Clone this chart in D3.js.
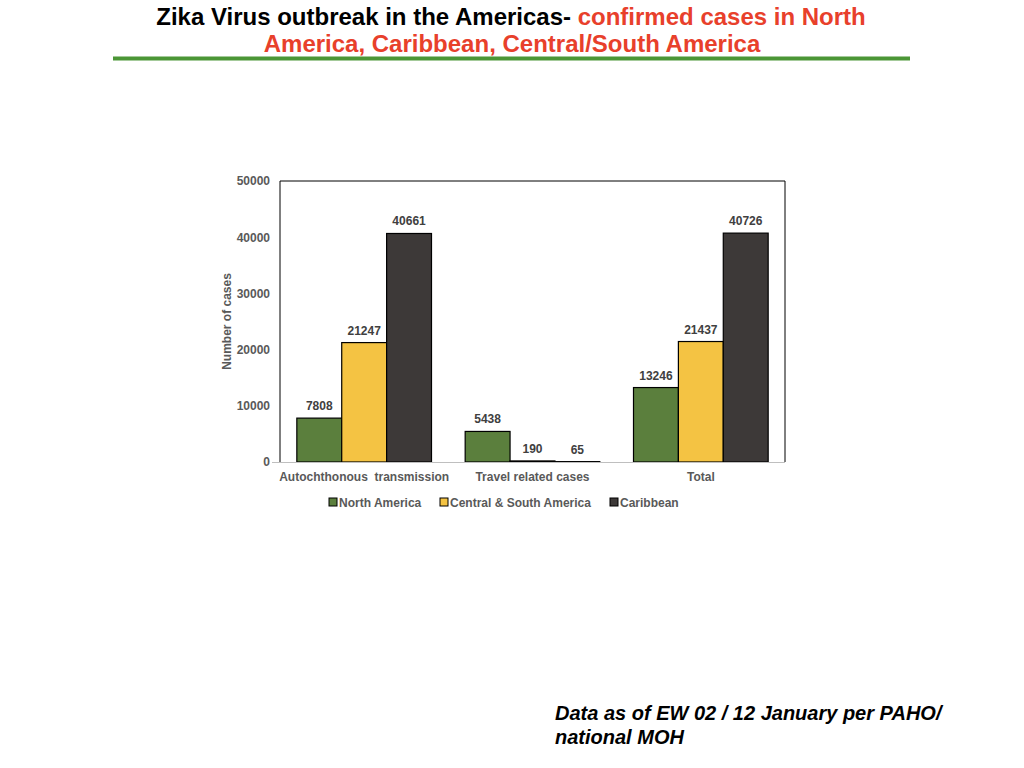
<html>
<head>
<script src="https://d3js.org/d3.v7.min.js"></script>
<style>
  body { margin: 0; background: #fff; }
  text { font-family: "Liberation Sans", Arial, sans-serif; }
</style>
</head>
<body>
<svg width="1024" height="768"></svg>
<script>
// chart data
var categories = ["Autochthonous  transmission", "Travel related cases", "Total"];
var seriesNames = ["North America", "Central & South America", "Caribbean"];
var northAmerica = [7808, 5438, 13246];
var centralSouth = [21247, 190, 21437];
var caribbean = [40661, 65, 40726];
var yTicks = [0, 10000, 20000, 30000, 40000, 50000];

var colors = ["#5b7f3d", "#f4c343", "#3d3938"];
var series = [northAmerica, centralSouth, caribbean];

var svg = d3.select("svg");

// title
var title = svg.append("text").attr("text-anchor", "middle")
  .style("font-size", "24px").style("font-weight", "bold");
title.append("tspan").attr("x", 511).attr("y", 25).attr("fill", "#000")
  .text("Zika Virus outbreak in the Americas- ");
title.append("tspan").attr("fill", "#e8402b").text("confirmed cases in North");
svg.append("text").attr("x", 512).attr("y", 52).attr("text-anchor", "middle")
  .attr("fill", "#e8402b").style("font-size", "24px").style("font-weight", "bold")
  .text("America, Caribbean, Central/South America");

svg.append("line").attr("x1", 113).attr("x2", 910).attr("y1", 58.5).attr("y2", 58.5)
  .attr("stroke", "#4b9636").attr("stroke-width", 4);

// plot area
var plotLeft = 280, plotRight = 785, plotTop = 181, plotBottom = 462;

var x0 = d3.scaleBand().domain(categories).range([plotLeft, plotRight])
  .paddingInner(0.2).paddingOuter(0.1);
var x1 = d3.scaleBand().domain(seriesNames).range([0, x0.bandwidth()]);
var y = d3.scaleLinear().domain([0, 50000]).range([plotBottom, plotTop]);

// frame (top/left/right black, bottom grey)
svg.append("path")
  .attr("d", "M" + plotLeft + "," + plotBottom + "V" + plotTop + "H" + plotRight + "V" + plotBottom)
  .attr("fill", "none").attr("stroke", "#000").attr("stroke-width", 1);

// y axis labels
var yAxis = svg.append("g").attr("transform", "translate(" + plotLeft + ",0)")
  .call(d3.axisLeft(y).tickValues(yTicks).tickSize(0).tickPadding(10).tickFormat(d3.format("d")));
yAxis.select(".domain").remove();
yAxis.selectAll("text").attr("fill", "#595959")
  .style("font-size", "12px").style("font-weight", "bold")
  .style("font-family", "'Liberation Sans', Arial, sans-serif");

svg.append("text").attr("transform", "translate(231," + ((plotTop + plotBottom) / 2) + ") rotate(-90)")
  .attr("text-anchor", "middle").attr("fill", "#595959")
  .style("font-size", "12px").style("font-weight", "bold")
  .text("Number of cases");

// bars
var groups = svg.selectAll(".grp").data(categories).enter().append("g")
  .attr("transform", function(d) { return "translate(" + x0(d) + ",0)"; });

function cells(d, i) {
  return seriesNames.map(function(s, j) { return {s: s, j: j, v: series[j][i]}; });
}

groups.selectAll("rect").data(cells).enter().append("rect")
  .attr("x", function(d) { return x1(d.s); })
  .attr("y", function(d) { return y(d.v); })
  .attr("width", x1.bandwidth())
  .attr("height", function(d) { return plotBottom - y(d.v); })
  .attr("fill", function(d) { return colors[d.j]; })
  .attr("stroke", "#000").attr("stroke-width", 1.2);

groups.selectAll(".lbl").data(cells).enter().append("text")
  .attr("x", function(d) { return x1(d.s) + x1.bandwidth() / 2; })
  .attr("y", function(d) { return y(d.v) - 8; })
  .attr("text-anchor", "middle").attr("fill", "#404040")
  .style("font-size", "12px").style("font-weight", "bold")
  .text(function(d) { return d.v; });

// bottom axis line
svg.append("line").attr("x1", 272).attr("x2", plotRight).attr("y1", plotBottom + 0.5).attr("y2", plotBottom + 0.5)
  .attr("stroke", "#bfbfbf").attr("stroke-width", 1);

// category labels
var xAxis = svg.append("g").attr("transform", "translate(0," + plotBottom + ")")
  .call(d3.axisBottom(x0).tickSize(0).tickPadding(10));
xAxis.select(".domain").remove();
xAxis.selectAll("text").attr("fill", "#595959")
  .style("font-size", "12px").style("font-weight", "bold")
  .style("font-family", "'Liberation Sans', Arial, sans-serif")
  .style("white-space", "pre").attr("xml:space", "preserve");

// legend
var legendX = [329, 440, 610];
var legend = svg.selectAll(".leg").data(seriesNames).enter().append("g")
  .attr("transform", function(d, i) { return "translate(" + legendX[i] + ",498)"; });
legend.append("rect").attr("width", 8).attr("height", 8)
  .attr("fill", function(d, i) { return colors[i]; })
  .attr("stroke", "#000").attr("stroke-width", 1);
legend.append("text").attr("x", 10).attr("y", 8.5).attr("fill", "#595959")
  .style("font-size", "12px").style("font-weight", "bold")
  .text(function(d) { return d; });

// footnote
svg.append("text").attr("x", 555).attr("y", 720).attr("fill", "#000")
  .style("font-size", "20px").style("font-weight", "bold").style("font-style", "italic")
  .text("Data as of EW 02 / 12 January per PAHO/");
svg.append("text").attr("x", 555).attr("y", 744).attr("fill", "#000")
  .style("font-size", "20px").style("font-weight", "bold").style("font-style", "italic")
  .text("national MOH");
</script>
</body>
</html>
